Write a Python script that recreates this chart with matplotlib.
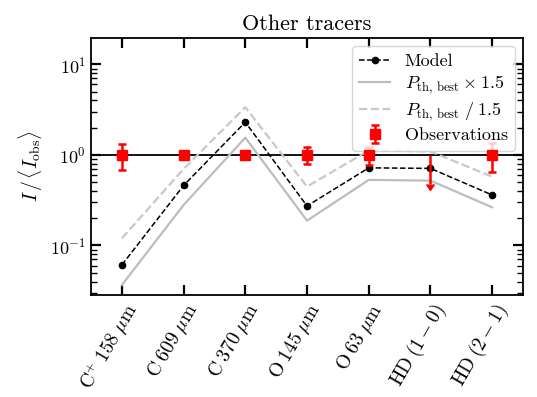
import numpy as np
import matplotlib
matplotlib.use("Agg")
import matplotlib.pyplot as plt
from matplotlib.ticker import LogLocator, NullFormatter

plt.rcParams.update({
    "font.family": "serif",
    "font.serif": ["cmr10", "DejaVu Serif"],
    "mathtext.fontset": "cm",
    "axes.formatter.use_mathtext": True,
    "font.size": 13,
})

# Tracer lines
labels = [r"C$^{+}\;158\;\mu$m", r"C$\;609\;\mu$m", r"C$\;370\;\mu$m",
          r"O$\;145\;\mu$m", r"O$\;63\;\mu$m", r"HD$\;(1-0)$", r"HD$\;(2-1)$"]

# Intensities normalised by the mean observed intensity
model = [0.061, 0.46, 2.30, 0.273, 0.72, 0.71, 0.361]
p_times = [0.0366, 0.28, 1.55, 0.188, 0.53, 0.52, 0.264]
p_div = [0.12, 0.70, 3.36, 0.447, 1.12, 1.09, 0.575]

# Observations (detections) and their errors
obs_idx = [0, 1, 2, 3, 4, 6]
obs_val = [1.0, 1.0, 1.0, 1.0, 1.0, 1.0]
obs_err = [0.32, 0.04, 0.04, 0.21, 0.22, 0.35]

# Upper limit for HD(1-0)
lim_idx = [5]
lim_val = [1.0]
lim_low = [0.52]

x = np.arange(len(labels))

fig = plt.figure(figsize=(5.37, 3.97), dpi=100)
ax = fig.add_axes([0.1695, 0.257, 0.8045, 0.647])

ax.axhline(1.0, color="black", lw=1.3, zorder=1)

ax.plot(x, model, ls="--", color="black", marker="o", ms=4.5, lw=1.1,
        label="Model", zorder=4)
ax.plot(x, p_times, ls="-", color="#bdbdbd", lw=1.6,
        label=r"$P_{\rm th,\,best}\times1.5$", zorder=2)
ax.plot(x, p_div, ls="--", color="#c8c8c8", lw=1.6,
        label=r"$P_{\rm th,\,best}\;/\;1.5$", zorder=2)

ax.errorbar(obs_idx, obs_val, yerr=obs_err, fmt="s", color="red",
            ms=7, lw=1.8, capsize=3, capthick=1.8, zorder=5,
            label="Observations")
ax.errorbar(lim_idx, lim_val, yerr=[lim_low, [0.0]], fmt="none",
            color="red", ecolor="red", lw=1.8, uplims=True, zorder=5)

ax.set_yscale("log")
ax.set_ylim(0.0284, 19.5)
ax.set_xlim(-0.5, 6.5)
ax.set_xticks(x)
ax.set_xticklabels(labels, rotation=60, ha="right", rotation_mode="anchor",
                   fontsize=14)
ax.yaxis.set_major_locator(LogLocator(base=10, numticks=10))
ax.yaxis.set_minor_locator(LogLocator(base=10, subs=np.arange(2, 10), numticks=10))
ax.yaxis.set_minor_formatter(NullFormatter())

ax.tick_params(which="both", direction="in", top=True, right=True)
ax.tick_params(which="major", length=7, width=1.6)
ax.tick_params(which="minor", length=4, width=1.0)
ax.tick_params(axis="x", which="minor", top=False, bottom=False)
ax.tick_params(axis="y", labelsize=13)
for s in ax.spines.values():
    s.set_linewidth(1.3)

ax.set_ylabel(r"$I\,/\,\langle I_{\rm obs}\rangle$", fontsize=14)
ax.set_title("Other tracers", fontsize=16)

ax.legend(loc="upper right", fontsize=13, handlelength=1.7,
          borderaxespad=0.45, labelspacing=0.25, framealpha=0.8)

fig.savefig("out.png", dpi=100)
